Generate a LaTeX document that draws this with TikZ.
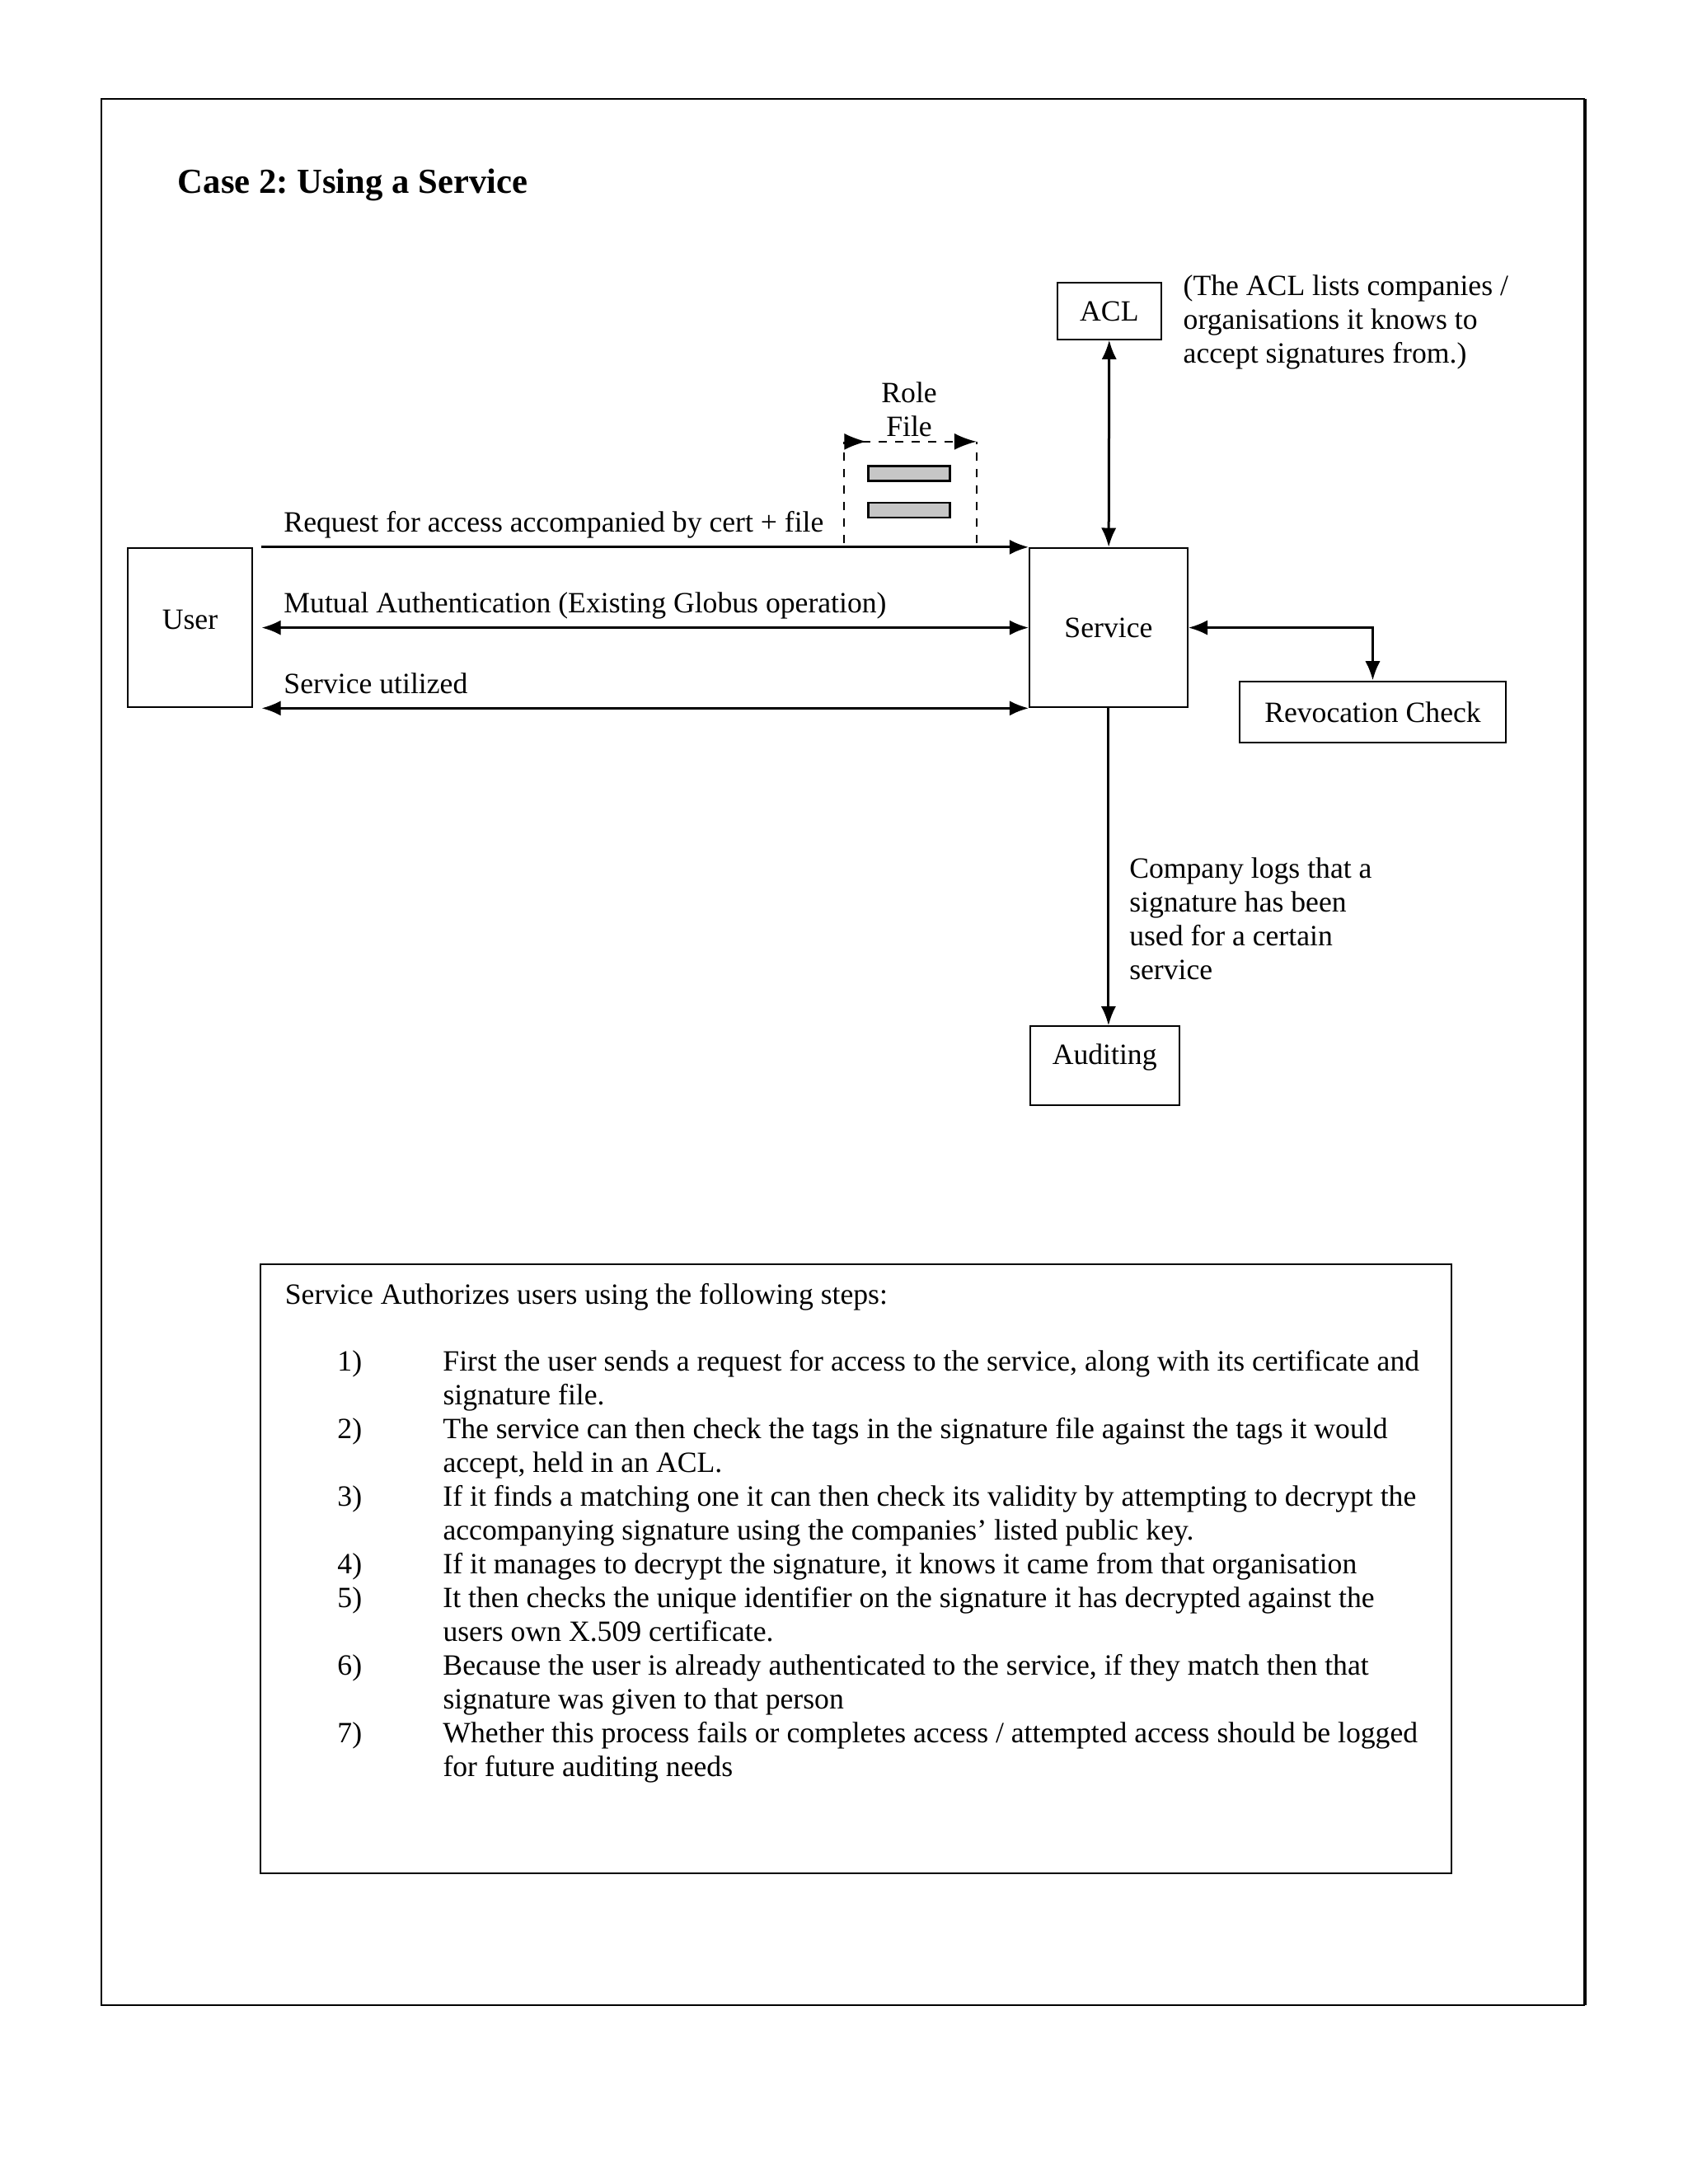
\documentclass[tikz,border=0pt]{standalone}
\usepackage{fontspec}
\setmainfont{Liberation Serif}
\usetikzlibrary{positioning, arrows.meta}
\frenchspacing

\begin{document}
\begin{tikzpicture}[>={Latex[length=7pt,width=5.5pt]},
    every node/.style={font=\fontsize{10.7}{12.3}\selectfont},
    box/.style={draw, line width=0.6pt, inner sep=0pt},
    flow/.style={line width=0.9pt},
    lbl/.style={pos=0, anchor=base west, inner sep=0pt, xshift=0.27cm, yshift=0.19cm},
    note/.style={inner sep=0pt, align=left, anchor=west}]
    \useasboundingbox (0,0) rectangle (21.59,27.94);

    \draw[line width=0.6pt] (20.27,2.29) -- (1.30,2.29) -- (1.30,26.67) -- (20.27,26.67);
    \draw[line width=1.2pt] (20.27,26.67) -- (20.27,2.29);
    \node[anchor=west, inner sep=0pt, font=\fontsize{12.8}{15}\selectfont\bfseries] (title)
        at (2.27,25.57) {Case 2: Using a Service};

    \node[box, minimum width=1.33cm, minimum height=0.72cm] (acl) at (14.19,23.96) {ACL};
    \node[note] (aclnote) at (15.13,23.82)
        {(The ACL lists companies /\\organisations it knows to\\accept signatures from.)};

    \node[box, minimum width=1.60cm, minimum height=2.04cm, text depth=0.2cm] (user) at (2.43,19.91) {User};
    \node[box, minimum width=2.02cm, minimum height=2.04cm] (service) at (14.18,19.91) {Service};
    \node[box, minimum width=3.41cm, minimum height=0.79cm] (revoc) at (17.56,18.83) {Revocation Check};
    \node[box, minimum width=1.91cm, text height=0.49cm, text depth=0.52cm, anchor=north] (audit)
        at (14.13,14.82) {Auditing};

    \node[align=center, inner sep=0pt] (role) at (11.63,22.70) {Role\\File};
    \draw[dashed, line width=0.6pt] (10.80,20.99) -- (10.80,22.29);
    \draw[dashed, line width=0.6pt] (12.49,20.99) -- (12.49,22.29);
    \draw[dashed, line width=0.6pt, {Latex[reversed,length=8pt,width=6pt]}-{Latex[length=8pt,width=6pt]}]
        (10.80,22.29) -- (12.49,22.29);
    \draw[fill=gray!45, line width=0.8pt] (11.11,21.79) rectangle (12.15,21.98);
    \draw[fill=gray!45, line width=0.8pt] (11.11,21.32) rectangle (12.15,21.51);

    \draw[flow, ->] ([xshift=3pt]user.north east) -- node[lbl] (reqtext)
        {Request for access accompanied by cert + file} (service.north west);
    \draw[flow, <->] ([xshift=3pt]user.east) -- node[lbl] (authtext)
        {Mutual Authentication (Existing Globus operation)} (service.west);
    \draw[flow, <->] ([xshift=3pt]user.south east) -- node[lbl] (usedtext)
        {Service utilized} (service.south west);

    \draw[flow, <->] (acl) -- (service);
    \draw[flow, <->] (service.east) -| (revoc.north);
    \draw[flow, ->] (service.south) -- (service.south |- audit.north);
    \node[note] (lognote) at (14.44,16.19)
        {Company logs that a\\signature has been\\used for a certain\\service};

    \node[box, minimum width=15.24cm, minimum height=7.80cm] (steps) at (10.95,7.87) {};
    \node[anchor=base west, inner sep=0pt] (stepshead) at (3.64,11.25)
        {Service Authorizes users using the following steps:};
    \node[anchor=base west, inner sep=0pt] (steplist) at (4.31,10.40) {%
        \begin{tabular}[t]{@{}p{1.35cm}@{}l@{}}
        1) & First the user sends a request for access to the service, along with its certificate and\\
           & signature file.\\
        2) & The service can then check the tags in the signature file against the tags it would\\
           & accept, held in an ACL.\\
        3) & If it finds a matching one it can then check its validity by attempting to decrypt the\\
           & accompanying signature using the companies' listed public key.\\
        4) & If it manages to decrypt the signature, it knows it came from that organisation\\
        5) & It then checks the unique identifier on the signature it has decrypted against the\\
           & users own X.509 certificate.\\
        6) & Because the user is already authenticated to the service, if they match then that\\
           & signature was given to that person\\
        7) & Whether this process fails or completes access / attempted access should be logged\\
           & for future auditing needs
        \end{tabular}};
\end{tikzpicture}
\end{document}
